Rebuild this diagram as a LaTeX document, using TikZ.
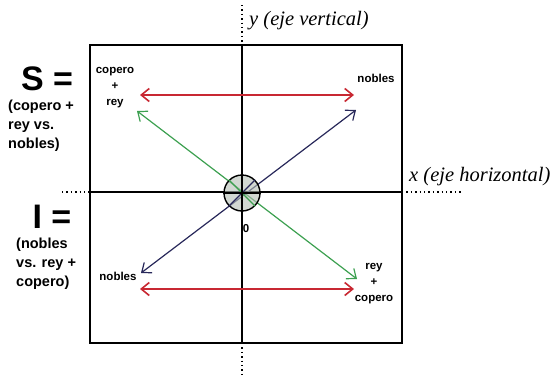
\documentclass[tikz,border=0pt]{standalone}
\usepackage{fontspec}
\setmainfont{Liberation Sans}
\newfontfamily\serifit{Liberation Serif}
\usetikzlibrary{arrows.meta}
\definecolor{redarr}{RGB}{200,40,50}
\definecolor{greenarr}{RGB}{60,160,80}
\definecolor{bluearr}{RGB}{40,40,90}
\definecolor{circfill}{RGB}{180,190,180}
\begin{document}
\begin{tikzpicture}[x=1pt,y=-1pt,
  small/.style={font=\bfseries\fontsize{11.5}{16}\selectfont,align=center,inner sep=0pt},
  bigeq/.style={font=\bfseries\fontsize{34}{36}\selectfont,inner sep=0pt},
  side/.style={font=\bfseries\fontsize{14.5}{19}\selectfont,align=left,inner sep=0pt,anchor=north west},
  axlab/.style={font=\serifit\itshape\fontsize{20.5}{22}\selectfont,inner sep=0pt,anchor=west},
  dots/.style={line width=1.4pt,dash pattern=on 1.4pt off 3pt},
  harrow/.style={line width=1.6pt,{Straight Barb[length=8pt,width=13pt]}-{Straight Barb[length=8pt,width=13pt]}}]
\useasboundingbox (0,0) rectangle (559,378);
% box
\draw[line width=2.2pt] (90,45) rectangle (402,343);
% axes
\coordinate (ytop) at (242,45);
\coordinate (ybot) at (242,343);
\coordinate (xl) at (90,192);
\coordinate (xr) at (402,192);
\draw[line width=1.5pt] (ytop) -- (ybot);
\draw[line width=1.5pt] (xl) -- (xr);
\coordinate (ydt) at (242,5);
\coordinate (ydb) at (242,378);
\coordinate (xdl) at (62,192);
\coordinate (xdr) at (462,192);
\draw[dots] (ydt) -- (ytop);
\draw[dots] (ybot) -- (ydb);
\draw[dots] (xdl) -- (xl);
\draw[dots] (xr) -- (xdr);
% arrows
\coordinate (r1a) at (140,95); \coordinate (r1b) at (354,95);
\coordinate (r2a) at (140,289); \coordinate (r2b) at (354,289);
\draw[harrow,redarr] (r1a) -- (r1b);
\draw[harrow,redarr] (r2a) -- (r2b);
\coordinate (ga) at (137,111); \coordinate (gb) at (357,279);
\draw[harrow,greenarr,line width=1.2pt] (ga) -- (gb);
\coordinate (ba) at (141,273); \coordinate (bb) at (356,110);
\draw[harrow,bluearr,line width=1.2pt] (ba) -- (bb);
% circle
\node[circle,draw,line width=1.4pt,fill=circfill,fill opacity=0.6,draw opacity=1,minimum size=36pt,inner sep=0pt] (c) at (242,193) {};
\draw[greenarr,line width=1.2pt] (c.north west) -- (c.south east);
\draw[bluearr,line width=1.2pt] (c.south west) -- (c.north east);
\draw[line width=1.5pt] (c.north) -- (c.south);
\draw[line width=1.5pt] (c.west) -- (c.east);
\node[small] (zero) at (246,229) {0};
% labels
\node[small] (cr) at (115,88) {copero\\+\\rey};
\node[small] (n1) at (376,78) {nobles};
\node[small] (n2) at (118,276) {nobles};
\node[small] (rc) at (374,284) {rey\\+\\copero};
\node[bigeq] (S) at (47,79) {S =};
\node[side] (Sd) at (8,100) {(copero +\\rey vs.\\nobles)};
\node[bigeq] (I) at (52,217) {I =};
\node[side] (Id) at (16,238) {(nobles\\vs. rey +\\copero)};
\node[axlab] (ylab) at (249,21) {y (eje vertical)};
\node[axlab] (xlab) at (409,177) {x (eje horizontal)};
\end{tikzpicture}
\end{document}
